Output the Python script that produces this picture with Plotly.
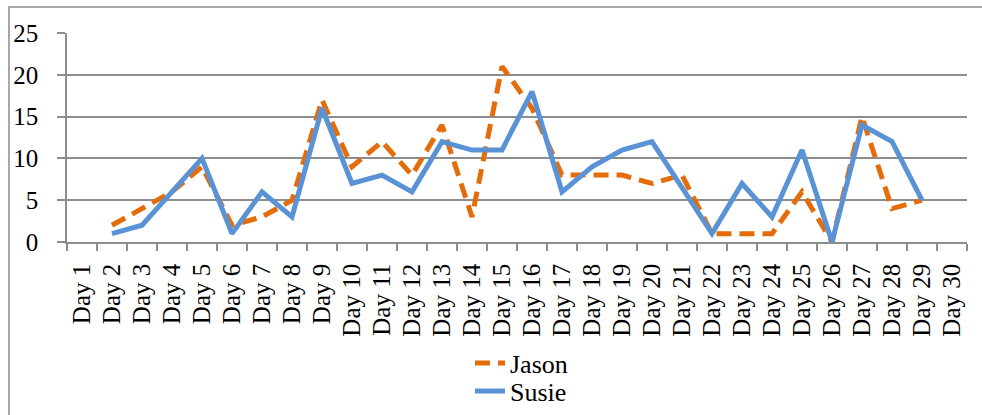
import plotly.graph_objects as go

# Category labels and daily counts (Day 1 and Day 30 have no entries)
days = [f"Day {i}" for i in range(1, 31)]
jason = [None, 2, 4, 6, 9, 2, 3, 5, 17, 9, 12, 8, 14, 3, 21, 16, 8, 8, 8, 7,
         8, 1, 1, 1, 6, 0, 15, 4, 5, None]
susie = [None, 1, 2, 6, 10, 1, 6, 3, 16, 7, 8, 6, 12, 11, 11, 18, 6, 9, 11, 12,
         6.5, 1, 7, 3, 11, 0, 14, 12, 5, None]
y_ticks = [0, 5, 10, 15, 20, 25]

W, H = 982, 415
L, R, T, B = 67, 15, 33, 173
PW, PH = W - L - R, H - T - B

FONT = "Liberation Serif"
GRID = "#8C8C8C"

fig = go.Figure()
fig.add_trace(go.Scatter(
    x=days, y=jason, name="Jason", mode="lines", legend="legend",
    line=dict(color="#E46C0A", width=5, dash="15px,8px"),
    cliponaxis=False, connectgaps=False,
))
fig.add_trace(go.Scatter(
    x=days, y=susie, name="Susie", mode="lines", legend="legend2",
    line=dict(color="#5A92D6", width=5),
    cliponaxis=False, connectgaps=False,
))

# outer chart-area frame
fig.add_shape(
    type="rect", xref="paper", yref="paper",
    x0=(9 - L) / PW, x1=(W + 20 - L) / PW,
    y0=-(B + 20) / PH, y1=(H - B - 7) / PH,
    line=dict(color="#8C8C8C", width=1.5), fillcolor="rgba(0,0,0,0)",
    layer="below",
)

legend_style = dict(
    xref="container", yref="container", xanchor="left", yanchor="middle",
    font=dict(family=FONT, size=26, color="black"),
    bgcolor="rgba(0,0,0,0)", borderwidth=0,
)

fig.update_layout(
    width=W, height=H,
    margin=dict(l=L, r=R, t=T, b=B, pad=0, autoexpand=False),
    paper_bgcolor="white", plot_bgcolor="white",
    font=dict(family=FONT, color="black", size=25),
    showlegend=True,
    legend=dict(x=470 / W, y=1 - 363 / H, **legend_style),
    legend2=dict(x=470 / W, y=1 - 391 / H, **legend_style),
    xaxis=dict(
        type="category", categoryorder="array", categoryarray=days,
        range=[-0.5, len(days) - 0.5], automargin=False,
        tickson="boundaries", ticks="outside", ticklen=7, tickcolor=GRID, tickwidth=1.5,
        tickangle=-90, tickfont=dict(family=FONT, size=25),
        showgrid=False, showline=True, linecolor=GRID, linewidth=1.5,
        ticklabelstandoff=10,
    ),
    yaxis=dict(
        range=[0, 25], tickvals=y_ticks, automargin=False,
        ticks="outside", ticklen=8, tickcolor=GRID, tickwidth=1.5,
        showgrid=True, gridcolor=GRID, gridwidth=1.5,
        showline=True, linecolor=GRID, linewidth=1.5,
        zeroline=False, tickfont=dict(family=FONT, size=25),
        ticklabelstandoff=14,
    ),
)

fig.write_html("out.html")
